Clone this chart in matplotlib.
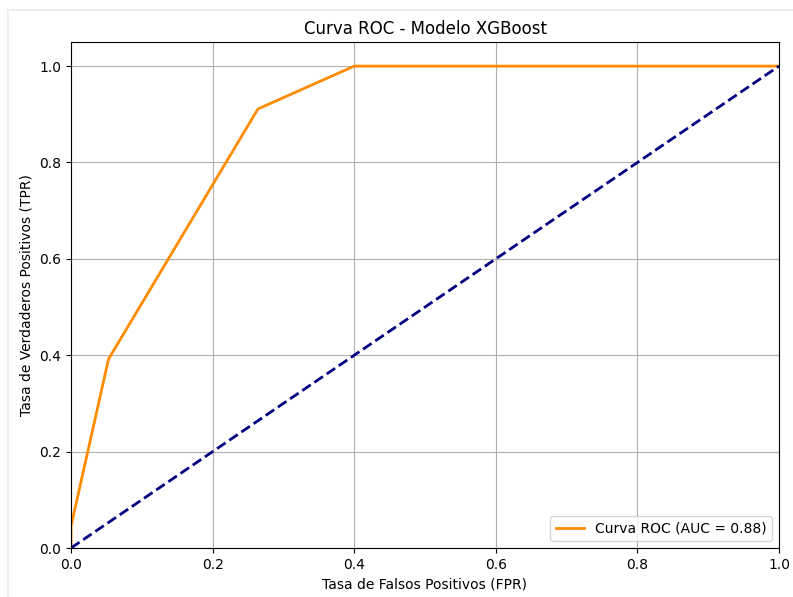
import matplotlib
matplotlib.use("Agg")
import matplotlib.pyplot as plt
from matplotlib.lines import Line2D

# ROC points
fpr = [0.0, 0.0, 0.053, 0.264, 0.4, 1.0]
tpr = [0.0, 0.045, 0.392, 0.911, 1.0, 1.0]
auc_value = 0.88

diag = [0.0, 1.0]

fig = plt.figure(figsize=(7.93, 5.97), dpi=100)

# faint screenshot frame
fig.add_artist(Line2D([8 / 793, 8 / 793], [0, 1 - 10 / 597], color="#eeeeee", lw=1.5))
fig.add_artist(Line2D([8 / 793, 1], [1 - 10 / 597, 1 - 10 / 597], color="#eeeeee", lw=1.5))

ax = fig.add_axes([71 / 793, 49 / 597, 708 / 793, 506 / 597])

ax.plot(fpr, tpr, color="darkorange", lw=2, label=f"Curva ROC (AUC = {auc_value:.2f})")
ax.plot(diag, diag, color="navy", lw=2, linestyle="--")

ax.set_xlim(0.0, 1.0)
ax.set_ylim(0.0, 1.05)
ax.set_xlabel("Tasa de Falsos Positivos (FPR)")
ax.set_ylabel("Tasa de Verdaderos Positivos (TPR)")
ax.set_title("Curva ROC - Modelo XGBoost")
ax.legend(loc="lower right")
ax.grid(True)

fig.savefig("out.png", dpi=100)
